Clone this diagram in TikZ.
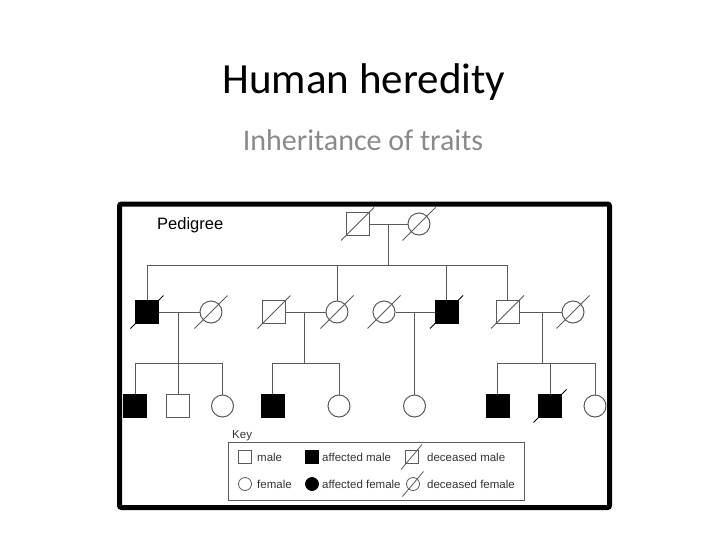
\documentclass[tikz,border=0pt]{standalone}
\usepackage{fontspec}
\setmainfont{Carlito}
\newfontfamily\arialfont{Liberation Sans}
\usetikzlibrary{positioning}
\definecolor{pedline}{HTML}{5A5A5A}
\definecolor{subgray}{HTML}{8A8A8A}
\definecolor{keytext}{HTML}{333333}

\begin{document}
\begin{tikzpicture}[x=1pt, y=-1pt,
  every node/.style={inner sep=0pt},
  male/.style={draw=pedline, line width=1pt, minimum size=23pt},
  female/.style={circle, draw=pedline, line width=1pt, minimum size=22pt},
  affected/.style={fill=black, draw=black},
  link/.style={draw=pedline, line width=1pt},
  slash/.style={draw=pedline, line width=1pt},
  keymale/.style={draw=pedline, line width=0.8pt, minimum size=13pt},
  keyfemale/.style={circle, draw=pedline, line width=0.8pt, minimum size=13pt},
  keylabel/.style={anchor=west, text=keytext, font=\arialfont\fontsize{11.5}{13}\selectfont},
  frame/.style={draw=black, line width=5pt, rounded corners=2pt}
]
\useasboundingbox (0,0) rectangle (728,546);
\node[anchor=base, font=\fontsize{43}{48}\selectfont] (title) at (364,93) {Human heredity};
\node[anchor=base, text=subgray, font=\fontsize{30}{34}\selectfont] (subtitle) at (363,150) {Inheritance of traits};
\node[anchor=base west, font=\arialfont\fontsize{16.5}{18}\selectfont] (pedigree) at (157,229) {Pedigree};
\node[male] (g1m) at (357.5,224) {};
\node[female] (g1f) at (419,224) {};
\coordinate (g1u) at (388,224);
\coordinate (g1s) at (388,265);
\node[male, affected] (a1) at (147,312) {};
\node[female] (a2) at (211,312) {};
\node[male] (b1) at (274,312) {};
\node[female] (b2) at (337,312) {};
\node[female] (d1) at (384,312) {};
\node[male, affected] (d2) at (446.5,312) {};
\node[male] (e1) at (507.5,312) {};
\node[female] (e2) at (573,312) {};
\coordinate (c1) at (178,312);
\coordinate (c2) at (304,312);
\coordinate (c3) at (414.5,312);
\coordinate (c4) at (542,312);
\coordinate (j1) at (178,363);
\coordinate (j2) at (304,363);
\coordinate (j4) at (542,363);
\node[male, affected] (h1) at (135,406) {};
\node[male] (h2) at (178,406) {};
\node[female] (h3) at (222.5,406) {};
\node[male, affected] (h4) at (272.5,406) {};
\node[female] (h5) at (339,406) {};
\node[female] (h6) at (414.5,406) {};
\node[male, affected] (h7) at (497.5,406) {};
\node[male, affected] (h8) at (550,406) {};
\node[female] (h9) at (595,406) {};
\draw[link] (g1m) -- (g1f);
\draw[link] (g1u) -- (g1s);
\foreach \n in {a1,b2,d2,e1}
  \draw[link] (\n) |- (g1s);
\draw[link] (a1) -- (a2);
\draw[link] (b1) -- (b2);
\draw[link] (d1) -- (d2);
\draw[link] (e1) -- (e2);
\draw[link] (c1) -- (j1);
\draw[link] (c2) -- (j2);
\draw[link] (c3) -- (h6);
\draw[link] (c4) -- (j4);
\foreach \n/\j in {h1/j1,h2/j1,h3/j1,h4/j2,h5/j2,h7/j4,h8/j4,h9/j4}
  \draw[link] (\n) |- (\j);
\foreach \n in {g1m,g1f,a2,b1,b2,d1,e1,e2}
  \draw[slash] ([shift={(-16.5,16.5)}]\n.center) -- ([shift={(16.5,-16.5)}]\n.center);
\foreach \n in {a1,d2,h8}
  \draw[slash, draw=black] ([shift={(-16.5,16.5)}]\n.center) -- ([shift={(16.5,-16.5)}]\n.center);
\node[anchor=west, keylabel] (keyttl) at (232,436) {Key};
\node[draw=pedline, line width=0.8pt, minimum width=296pt, minimum height=58pt] (keybox) at (376,471) {};
\node[keymale] (k1) at (245,457) {};
\node[keymale, affected] (k2) at (311.5,457) {};
\node[keymale] (k3) at (411.5,457) {};
\node[keyfemale] (k4) at (245,484) {};
\node[keyfemale, affected] (k5) at (312,484) {};
\node[keyfemale] (k6) at (413,484) {};
\draw[slash, line width=0.8pt] ([shift={(-10.5,12.5)}]k3.center) -- ([shift={(10.5,-12.5)}]k3.center);
\draw[slash, line width=0.8pt] ([shift={(-10.5,12.5)}]k6.center) -- ([shift={(10.5,-12.5)}]k6.center);
\node[keylabel] (l1) at (257,457) {male};
\node[keylabel] (l2) at (322,457) {affected male};
\node[keylabel] (l3) at (427,457) {deceased male};
\node[keylabel] (l4) at (257,484) {female};
\node[keylabel] (l5) at (322,484) {affected female};
\node[keylabel] (l6) at (427,484) {deceased female};
\draw[frame] (119.5,204) rectangle (609.5,507.5);
\end{tikzpicture}
\end{document}
